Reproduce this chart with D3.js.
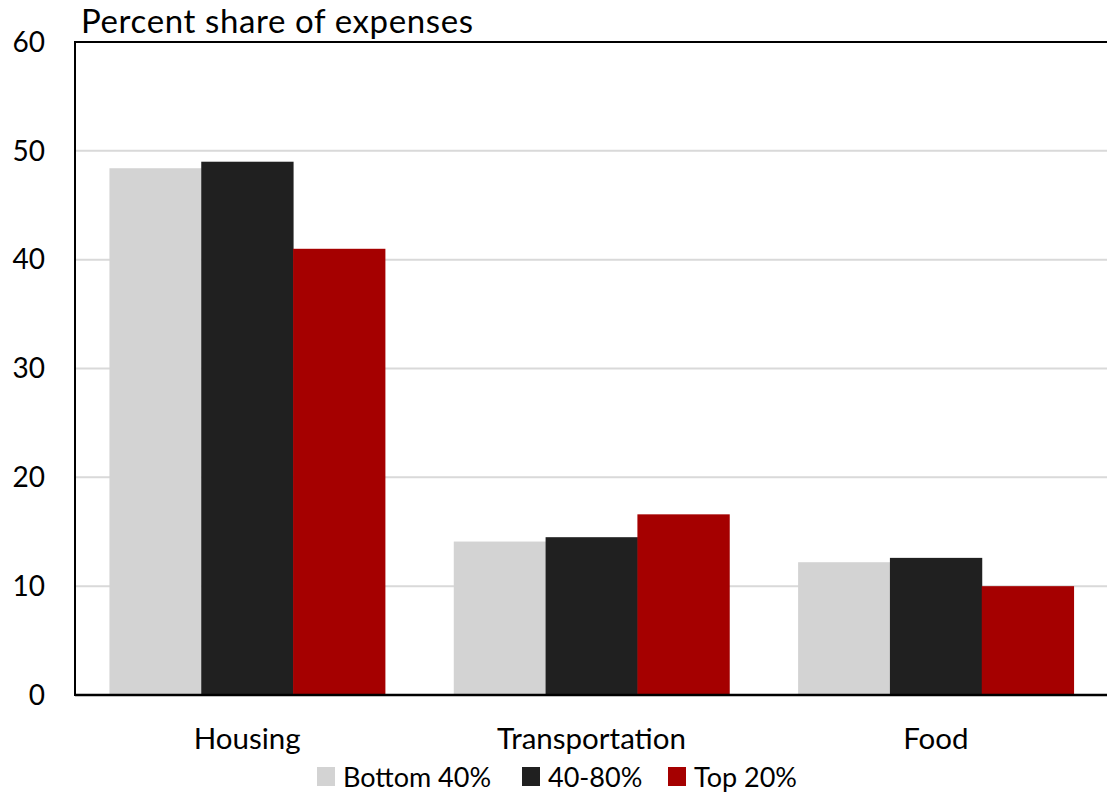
<!DOCTYPE html>
<html><head><meta charset="utf-8">
<script src="https://cdn.jsdelivr.net/npm/d3@7"></script>
<style>body{margin:0;background:#fff}text{font-family:Lato,"Open Sans",sans-serif;fill:#000}</style>
</head><body><svg id="c" width="1107" height="796"></svg>
<script>
const categories = ["Housing","Transportation","Food"];
const seriesNames = ["Bottom 40%","40-80%","Top 20%"];
const bottom40 = [48.4, 14.1, 12.2];
const mid40to80 = [49.0, 14.5, 12.6];
const top20 = [41.0, 16.6, 10.0];
const yTicks = [0,10,20,30,40,50,60];
const colors = ["#d3d3d3","#202020","#a50000"];
const seriesVals = [bottom40, mid40to80, top20];

const svg = d3.select("#c");
const L=75, R=1108, T=42, B=695;
const x0 = d3.scaleBand().domain(categories).range([L,R]);
const y = d3.scaleLinear().domain([0,60]).range([B,T]);

// grid
svg.append("g").selectAll("line").data(yTicks.filter(d=>d>0&&d<60)).join("line")
  .attr("x1",L).attr("x2",R).attr("y1",d=>y(d)).attr("y2",d=>y(d))
  .attr("stroke","#d9d9d9").attr("stroke-width",2);

// bars
const groupW = x0.bandwidth()*0.8;
const xs = d3.scaleBand().domain(seriesNames).range([0,groupW]);
categories.forEach((c,i)=>{
  const gx = x0(c) + (x0.bandwidth()-groupW)/2;
  seriesNames.forEach((s,j)=>{
    svg.append("rect").attr("x",gx+xs(s)).attr("width",xs.bandwidth()+0.5)
      .attr("y",y(seriesVals[j][i])).attr("height",B-y(seriesVals[j][i]))
      .attr("fill",colors[j]);
  });
});

// axes lines
svg.append("line").attr("x1",L).attr("x2",R).attr("y1",T).attr("y2",T).attr("stroke","#000").attr("stroke-width",2);
svg.append("line").attr("x1",L).attr("x2",L).attr("y1",T-1).attr("y2",B+1).attr("stroke","#000").attr("stroke-width",2);
svg.append("line").attr("x1",L).attr("x2",R).attr("y1",B).attr("y2",B).attr("stroke","#000").attr("stroke-width",2.5);

// y tick labels
svg.append("g").selectAll("text").data(yTicks).join("text")
  .attr("x",45).attr("y",d=>y(d)).attr("dy","0.35em").attr("text-anchor","end")
  .attr("font-size",28).text(d=>d);

// x labels
svg.append("g").selectAll("text").data(categories).join("text")
  .attr("x",d=>x0(d)+x0.bandwidth()/2).attr("y",749).attr("text-anchor","middle")
  .attr("font-size",29.5).text(d=>d);

// title
svg.append("text").attr("x",81).attr("y",33).attr("font-size",33).attr("textLength",392).text("Percent share of expenses");

// legend
const legX=[317,522,668];
seriesNames.forEach((s,j)=>{
  svg.append("rect").attr("x",legX[j]).attr("y",767).attr("width",18).attr("height",19).attr("fill",colors[j]);
  svg.append("text").attr("x",legX[j]+26).attr("y",787).attr("font-size",27).text(s);
});
</script></body></html>
